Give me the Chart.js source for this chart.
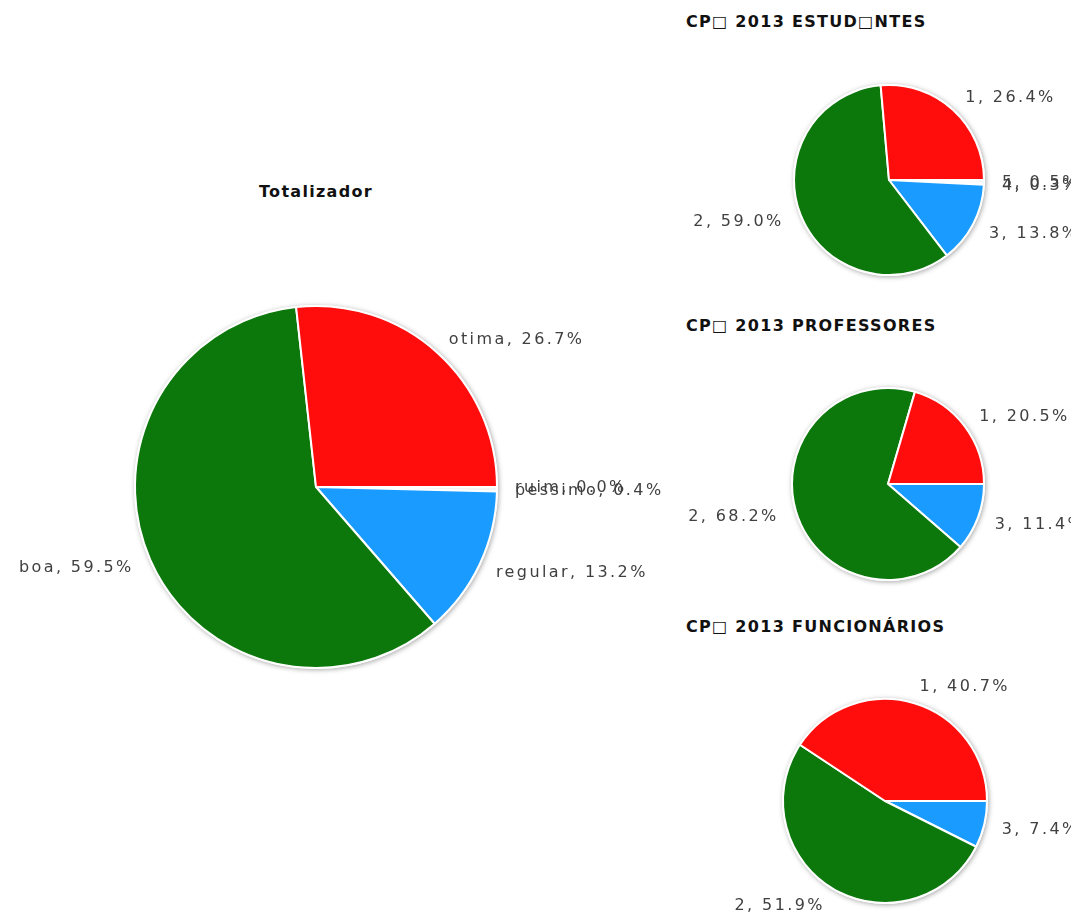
<!DOCTYPE html>
<html>
<head>
<meta charset="utf-8">
<script src="https://cdn.jsdelivr.net/npm/chart.js@4.4.1/dist/chart.umd.min.js"></script>
<style>
  html, body { margin: 0; padding: 0; background: #fff; overflow: hidden; }
  body { width: 1071px; height: 916px; position: relative; }
  canvas.pie { position: absolute; left: 0; top: 0; }
  .title {
    position: absolute;
    font-family: "DejaVu Sans", Verdana, sans-serif;
    font-weight: bold;
    font-size: 16px;
    letter-spacing: 1.3px;
    color: #111;
    white-space: nowrap;
    line-height: 1;
  }
</style>
</head>
<body>
<div class="title" style="left:259px; top:184px;">Totalizador</div>
<div class="title" style="left:686px; top:14px;">CP□ 2013 ESTUD□NTES</div>
<div class="title" style="left:686px; top:318px;">CP□ 2013 PROFESSORES</div>
<div class="title" style="left:686px; top:619px;">CP□ 2013 FUNCIONÁRIOS</div>

<canvas class="pie" id="total"></canvas>
<canvas class="pie" id="estudantes"></canvas>
<canvas class="pie" id="professores"></canvas>
<canvas class="pie" id="funcionarios"></canvas>

<script>
// data, in the order the slices run (counter-clockwise from 3 o'clock)
const totalLabels = ['otima', 'boa', 'regular', 'pessimo', 'ruim'];
const totalValues = [26.7, 59.5, 13.2, 0.4, 0.0];

const estudantesLabels = ['1', '2', '3', '4', '5'];
const estudantesValues = [26.4, 59.0, 13.8, 0.3, 0.5];

const professoresLabels = ['1', '2', '3'];
const professoresValues = [20.5, 68.2, 11.4];

const funcionariosLabels = ['1', '2', '3'];
const funcionariosValues = [40.7, 51.9, 7.4];

const sliceColors = ['#ff0d0d', '#0c780c', '#1a9bff', '#f4f4f4', '#f4f4f4'];

const W = 1071, H = 916;

// shadow under the pie + outside labels "name, xx.x%"
const pieDecor = {
  id: 'pieDecor',
  beforeDatasetsDraw(chart) {
    const arc = chart.getDatasetMeta(0).data[0];
    if (!arc) return;
    const ctx = chart.ctx;
    ctx.save();
    ctx.shadowColor = 'rgba(0,0,0,0.35)';
    ctx.shadowBlur = 5;
    ctx.shadowOffsetX = 1;
    ctx.shadowOffsetY = 1;
    ctx.fillStyle = '#fff';
    ctx.beginPath();
    ctx.arc(arc.x, arc.y, arc.outerRadius + 1, 0, Math.PI * 2);
    ctx.fill();
    ctx.restore();
  },
  afterDatasetsDraw(chart) {
    const ctx = chart.ctx;
    const meta = chart.getDatasetMeta(0);
    const labels = chart.data.labels;
    const values = chart.data.datasets[0].data;
    ctx.save();
    ctx.font = '16px "DejaVu Sans", Verdana, sans-serif';
    ctx.letterSpacing = '2.4px';
    ctx.fillStyle = '#404040';
    ctx.textBaseline = 'middle';
    // draw in the original order (reverse of chart order)
    for (let i = meta.data.length - 1; i >= 0; i--) {
      const a = meta.data[i];
      const mid = (a.startAngle + a.endAngle) / 2;
      const rr = a.outerRadius + 18;
      const x = a.x + Math.cos(mid) * rr;
      const y = a.y + Math.sin(mid) * rr;
      ctx.textAlign = Math.cos(mid) >= -0.01 ? 'left' : 'right';
      ctx.fillText(labels[i] + ', ' + values[i].toFixed(1) + '%', x, y + 1);
    }
    ctx.restore();
  }
};

function makePie(id, labels, values, cx, cy, r) {
  const canvas = document.getElementById(id);
  canvas.width = W;
  canvas.height = H;
  canvas.style.width = W + 'px';
  canvas.style.height = H + 'px';
  const s = r + 4;
  // chart.js goes clockwise, the reference goes counter-clockwise -> reverse
  const revLabels = labels.slice().reverse();
  const revValues = values.slice().reverse();
  const revColors = sliceColors.slice(0, values.length).reverse();
  return new Chart(canvas.getContext('2d'), {
    type: 'pie',
    data: {
      labels: revLabels,
      datasets: [{
        data: revValues,
        backgroundColor: revColors,
        borderColor: '#fff',
        borderWidth: 2,
        radius: r
      }]
    },
    options: {
      responsive: false,
      animation: false,
      rotation: 90,
      layout: {
        padding: { left: cx - s, right: W - cx - s, top: cy - s, bottom: H - cy - s }
      },
      plugins: {
        legend: { display: false },
        tooltip: { enabled: false },
        title: { display: false }
      }
    },
    plugins: [pieDecor]
  });
}

makePie('total', totalLabels, totalValues, 316, 487, 181);
makePie('estudantes', estudantesLabels, estudantesValues, 889, 180, 95);
makePie('professores', professoresLabels, professoresValues, 888, 484, 96);
makePie('funcionarios', funcionariosLabels, funcionariosValues, 885, 801, 102);
</script>
</body>
</html>
